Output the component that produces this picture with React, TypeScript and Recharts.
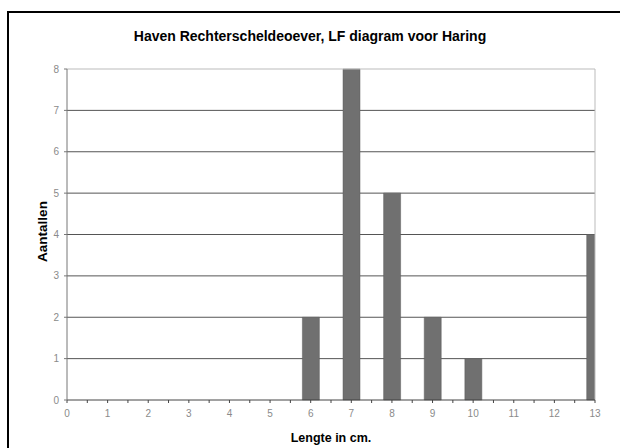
import * as React from "react";
import {
  Bar,
  BarChart,
  CartesianGrid,
  ReferenceLine,
  XAxis,
  YAxis,
} from "recharts";

const lengths = [6, 7, 8, 9, 10, 13];
const counts = [2, 8, 5, 2, 1, 4];
const xTicks = [0, 0.5, 1, 1.5, 2, 2.5, 3, 3.5, 4, 4.5, 5, 5.5, 6, 6.5, 7, 7.5, 8, 8.5, 9, 9.5, 10, 10.5, 11, 11.5, 12, 12.5, 13];
const yTicks = [0, 1, 2, 3, 4, 5, 6, 7, 8];

const data = lengths.map((x, i) => ({ x, n: counts[i] }));

const FONT = "'Liberation Sans', Arial, sans-serif";

function YTitle(props: any) {
  const { viewBox } = props;
  const cy = viewBox.y + viewBox.height / 2 - 3;
  return (
    <text
      x={42}
      y={cy}
      transform={`rotate(-90, 42, ${cy})`}
      textAnchor="middle"
      dominantBaseline="central"
      fontFamily={FONT}
      fontWeight="bold"
      fontSize={13.5}
      fill="#000"
    >
      Aantallen
    </text>
  );
}

export default function App() {
  return (
    <div
      style={{
        position: "absolute",
        left: 0,
        top: 0,
        width: 620,
        height: 448,
        overflow: "hidden",
        background: "#fff",
      }}
    >
      <div
        style={{
          position: "absolute",
          left: 7,
          top: 11,
          width: 640,
          height: 460,
          borderLeft: "2px solid #000",
          borderTop: "2px solid #000",
        }}
      />
      <div
        style={{
          position: "absolute",
          left: 0,
          top: 28,
          width: 620,
          textAlign: "center",
          fontFamily: FONT,
          fontWeight: "bold",
          fontSize: 14,
          color: "#000",
        }}
      >
        Haven Rechterscheldeoever, LF diagram voor Haring
      </div>
      <div style={{ position: "absolute", left: 0, top: 0 }}>
        <BarChart
          width={620}
          height={448}
          data={data}
          margin={{ top: 69, right: 25, bottom: 0, left: 0 }}
          barSize={17}
        >
          <CartesianGrid
            vertical={false}
            stroke="#555"
            horizontalValues={[1, 2, 3, 4, 5, 6, 7]}
          />
          <ReferenceLine y={8} stroke="#bbb" />
          <ReferenceLine x={13} stroke="#bbb" />
          <XAxis
            dataKey="x"
            type="number"
            domain={[0, 13]}
            ticks={xTicks}
            interval={0}
            allowDataOverflow
            height={48}
            stroke="#444"
            tickSize={3}
            tickMargin={7}
            tick={{ fill: "#8a8a8a", fontSize: 10, fontFamily: FONT }}
            tickFormatter={(v: number) => (Number.isInteger(v) ? String(v) : "")}
            label={{
              value: "Lengte in cm.",
              position: "insideBottom",
              offset: 6,
              fill: "#000",
              fontSize: 12.5,
              fontWeight: "bold",
              fontFamily: FONT,
            }}
          />
          <YAxis
            type="number"
            domain={[0, 8]}
            ticks={yTicks}
            interval={0}
            width={67}
            stroke="#777"
            tickSize={3}
            tickMargin={5}
            tick={{ fill: "#8a8a8a", fontSize: 10, fontFamily: FONT }}
            label={<YTitle />}
          />
          <Bar
            dataKey="n"
            fill="#707070"
            stroke="#5c5c5c"
            strokeWidth={0.5}
            isAnimationActive={false}
          />
        </BarChart>
      </div>
    </div>
  );
}
